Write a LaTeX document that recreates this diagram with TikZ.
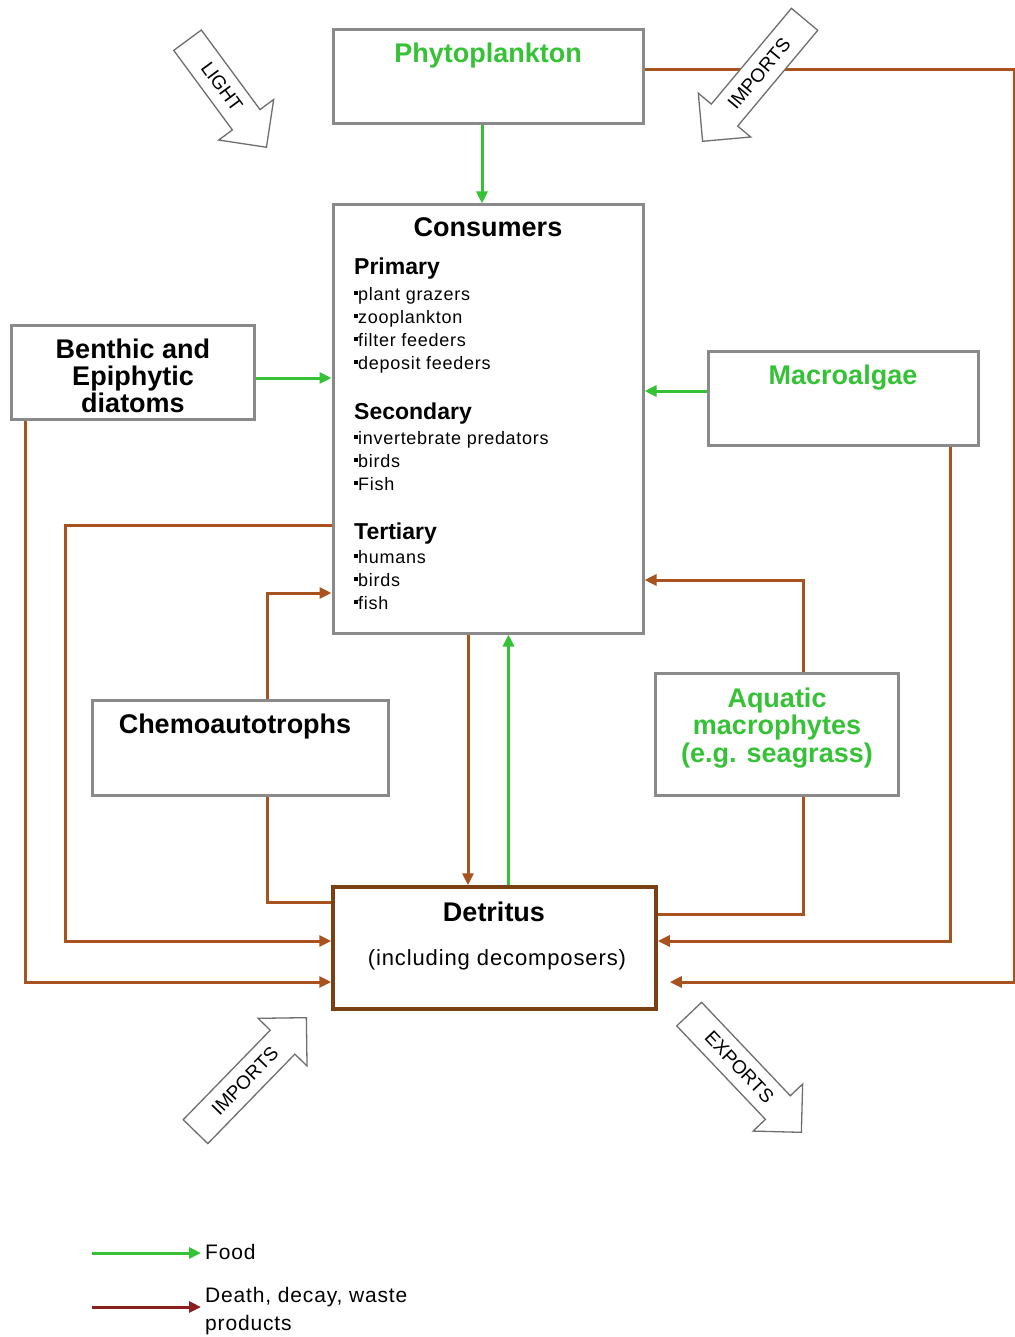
\documentclass[tikz,border=0pt]{standalone}
\usepackage{fontspec}
\setmainfont{Liberation Sans}
\newfontfamily\spacedfont[LetterSpace=4]{Liberation Sans}
\usetikzlibrary{arrows.meta,shapes.arrows}
\definecolor{boxgray}{HTML}{8A8A8A}
\definecolor{arrowgray}{HTML}{6E6E6E}
\definecolor{leafgreen}{HTML}{36C236}
\definecolor{decaybrown}{HTML}{A8521E}
\definecolor{detbrown}{HTML}{7B3F14}
\definecolor{legendred}{HTML}{8B1E1E}
\newcommand{\titlefont}{\fontsize{27}{27}\selectfont\bfseries}
\newcommand{\headfont}{\fontsize{23}{23}\selectfont\rmfamily\bfseries}
\newcommand{\itemfont}{\fontsize{18}{23}\selectfont\spacedfont}
\newcommand{\blt}{\rule[0.28em]{0.22em}{0.22em}}
\tikzset{
  box/.style={draw=boxgray, line width=3pt, fill=white, inner sep=0pt},
  detbox/.style={draw=detbrown, line width=3.5pt, fill=white, inner sep=0pt},
  ttl/.style={anchor=base, inner sep=0pt, align=center, font=\titlefont},
  gttl/.style={ttl, text=leafgreen},
  sect/.style={anchor=base west, inner sep=0pt, align=left, font=\itemfont},
  food/.style={draw=leafgreen, line width=3pt, -{Triangle[length=12pt,width=11pt]}},
  decay/.style={draw=decaybrown, line width=3pt, -{Triangle[length=12pt,width=11pt]}},
  decayline/.style={draw=decaybrown, line width=3pt},
  blockarrow/.style={single arrow, draw=arrowgray, fill=white, line width=1.3pt,
    font=\fontsize{19}{19}\selectfont, text height=13pt, text depth=0pt,
    inner xsep=3pt, inner ysep=10pt, single arrow head extend=17pt,
    single arrow tip angle=90},
  lgd/.style={anchor=base west, inner sep=0pt, align=left, font=\fontsize{21}{28}\selectfont\spacedfont},
}

\begin{document}
\begin{tikzpicture}[x=1pt,y=-1pt]
  \useasboundingbox (0,0) rectangle (1014,1337);

  % boxes
  \node[box, minimum width=310pt, minimum height=94pt] (phyto) at (488,77) {};
  \node[box, minimum width=310pt, minimum height=428pt] (cons) at (488,419) {};
  \node[box, minimum width=243pt, minimum height=94pt] (benthic) at (132.5,372) {};
  \node[box, minimum width=270pt, minimum height=94pt] (macro) at (843,398) {};
  \node[box, minimum width=296pt, minimum height=95pt] (chemo) at (240,747.5) {};
  \node[box, minimum width=243pt, minimum height=122pt] (aquatic) at (776.5,734) {};
  \node[detbox, minimum width=323pt, minimum height=122pt] (detritus) at (494.5,948) {};

  % food
  \draw[food] ([xshift=-6pt]phyto.south) -- ([xshift=-6pt]cons.north);
  \draw[food] ([yshift=-6pt]benthic.east) -- ([yshift=-6pt]benthic.east -| cons.west);
  \draw[food] ([yshift=7pt]macro.west) -- ([yshift=7pt]macro.west -| cons.east);
  \draw[food] ([xshift=14pt]detritus.north) -- ([xshift=14pt]detritus.north |- cons.south);

  % death, decay, waste
  \coordinate (edgeN) at (1014.5,70);
  \coordinate (edgeS) at (1014.5,982);
  \draw[decay, shorten >=12pt] ([yshift=7pt]phyto.east) -- (edgeN) -- (edgeS) -- (edgeS -| detritus.east);
  \draw[decay] ([xshift=-20pt]cons.south) -- ([xshift=-20pt]cons.south |- detritus.north);
  \draw[decay] (cons.west |- 0,525) -| (65,941) -- (detritus.west |- 0,941);
  \draw[decay] (benthic.south -| 25,0) |- (detritus.west |- 0,982);
  \draw[decay] (chemo.north -| 267,0) |- (cons.west |- 0,593);
  \draw[decayline] (chemo.south -| 267,0) |- (detritus.west |- 0,902);
  \draw[decay] (aquatic.north -| 803,0) |- (cons.east |- 0,580);
  \draw[decayline] (aquatic.south -| 803,0) |- (detritus.east |- 0,914);
  \draw[decay] (macro.south -| 950,0) |- (detritus.east |- 0,941);

  % texts (multi-line nodes sit on their last baseline)
  \node[gttl] (phytoT) at (488,63) {Phytoplankton};
  \node[ttl] (consT) at (488,237) {Consumers};
  \node[sect] (prim) at (354,369) {{\headfont Primary}\\[3pt]
    \blt plant grazers\\ \blt zooplankton\\ \blt filter feeders\\ \blt deposit feeders};
  \node[sect] (sec) at (354,490) {{\headfont Secondary}\\[2pt]
    \blt invertebrate predators\\ \blt birds\\ \blt Fish};
  \node[sect] (tert) at (354,609) {{\headfont Tertiary}\\[1pt]
    \blt humans\\ \blt birds\\ \blt fish};
  \node[ttl] (benthicT) at (133,412) {Benthic and\\Epiphytic\\diatoms};
  \node[gttl] (macroT) at (843,384) {Macroalgae};
  \node[ttl] (chemoT) at (235,733) {Chemoautotrophs};
  \node[gttl, font=\fontsize{27}{27.5}\selectfont\bfseries] (aquaticT) at (777,762) {Aquatic\\macrophytes\\(e.g. seagrass)};
  \node[ttl] (detritusT) at (494,921) {Detritus};
  \node[anchor=base, inner sep=0pt, font=\fontsize{22}{22}\selectfont\spacedfont] (detritusS) at (497,965) {(including decomposers)};

  % in / out
  \node[blockarrow, minimum height=133pt, rotate=-53.6, anchor=tip] (light) at (267,148) {LIGHT};
  \node[blockarrow, minimum height=159pt, rotate=50.1, shape border rotate=180, anchor=tip] (impTop) at (702,142) {IMPORTS};
  \node[blockarrow, minimum height=159pt, rotate=45.8, anchor=tip] (impBot) at (307,1017) {IMPORTS};
  \node[blockarrow, minimum height=163pt, rotate=-46.5, anchor=tip] (exports) at (802,1133) {EXPORTS};

  % legend
  \coordinate (foodL) at (92,1253);
  \coordinate (decL) at (92,1307);
  \node[lgd] (foodT) at (205,1259) {Food};
  \node[lgd] (decT) at (205,1330) {Death, decay, waste\\products};
  \draw[food, shorten >=4pt] (foodL) -- (foodL -| foodT.west);
  \draw[decay, draw=legendred, shorten >=4pt] (decL) -- (decL -| decT.west);
\end{tikzpicture}
\end{document}
